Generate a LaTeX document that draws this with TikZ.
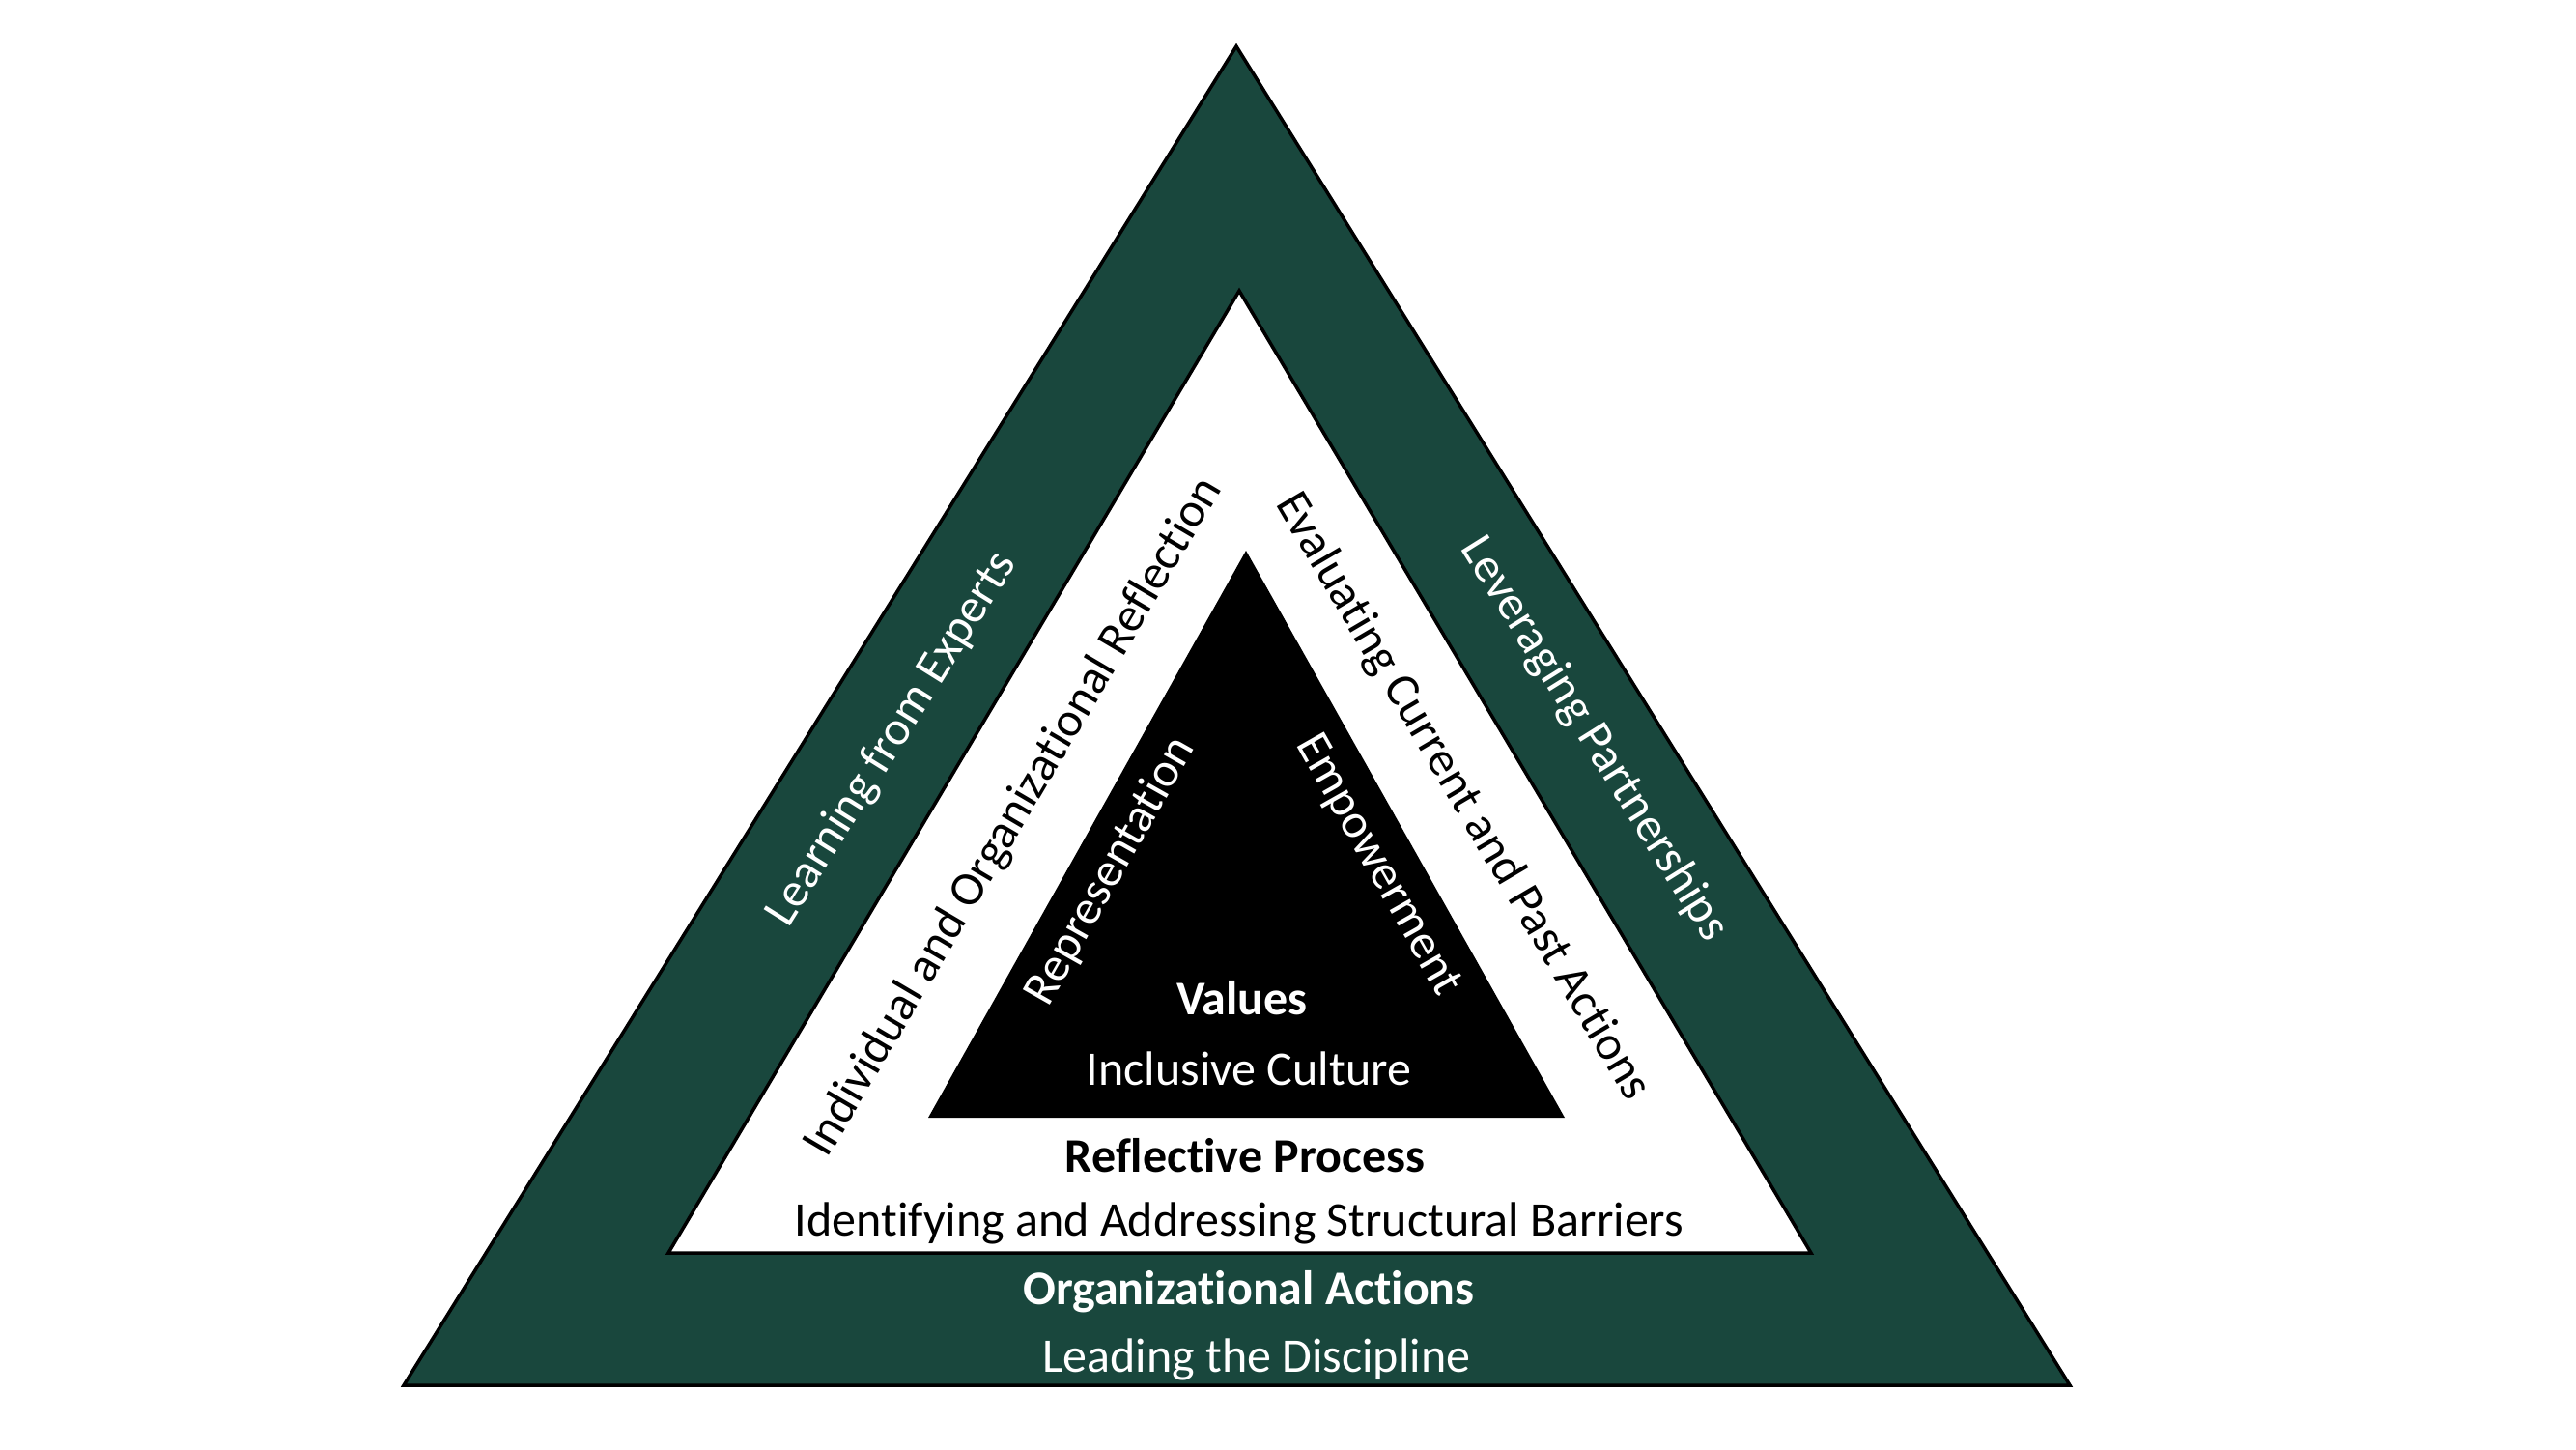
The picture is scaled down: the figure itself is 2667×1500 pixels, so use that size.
\documentclass[tikz,border=0pt]{standalone}
\usepackage{fontspec}
\setmainfont{Carlito}[Ligatures=NoCommon]
\definecolor{dgreen}{RGB}{25,71,61}
\begin{document}
\begin{tikzpicture}[x=1pt,y=-1pt,
  lbl/.style={inner sep=0pt,font=\fontsize{50}{60}\selectfont},
  wlbl/.style={lbl,text=white},
  bold/.style={font=\fontsize{50}{60}\selectfont\bfseries},
  edge/.style={draw=black,line width=3.5pt,line join=miter}]
\useasboundingbox (0,0) rectangle (2667,1500);
% triangles
\coordinate (oA) at (1280,48);
\coordinate (oL) at (418,1434);
\coordinate (oR) at (2143,1434);
\coordinate (mA) at (1283,301);
\coordinate (mL) at (692,1297);
\coordinate (mR) at (1875,1297);
\coordinate (iA) at (1290,570);
\coordinate (iL) at (961,1157);
\coordinate (iR) at (1620,1157);
\fill[dgreen] (oA) -- (oL) -- (oR) -- cycle;
\draw[edge] (oA) -- (oL) -- (oR) -- cycle;
\fill[white] (mA) -- (mL) -- (mR) -- cycle;
\draw[edge] (mA) -- (mL) -- (mR) -- cycle;
\fill[black] (iA) -- (iL) -- (iR) -- cycle;
% horizontal labels
\node[wlbl,bold] (values) at (1286,1033) {Values};
\node[wlbl] (incl) at (1293,1106) {Inclusive Culture};
\node[lbl,bold] (refl) at (1289,1196) {Reflective Process};
\node[lbl] (ident) at (1283,1266) {Identifying and Addressing Structural Barriers};
\node[wlbl,bold] (orga) at (1293,1337) {Organizational Actions};
\node[wlbl] (lead) at (1301,1407) {Leading the Discipline};
% rotated labels
\node[wlbl,rotate=58] (learn) at (924,765) {Learning from Experts};
\node[lbl,rotate=59.5] (indiv) at (1050,846) {Individual and Organizational Reflection};
\node[wlbl,rotate=60.5] (repr) at (1150,902) {Representation};
\node[wlbl,rotate=-60.5] (empo) at (1426,896) {Empowerment};
\node[lbl,rotate=-59.5] (eval) at (1514,825) {Evaluating Current and Past Actions};
\node[wlbl,rotate=-58] (lever) at (1650,765) {Leveraging Partnerships};
\end{tikzpicture}
\end{document}
